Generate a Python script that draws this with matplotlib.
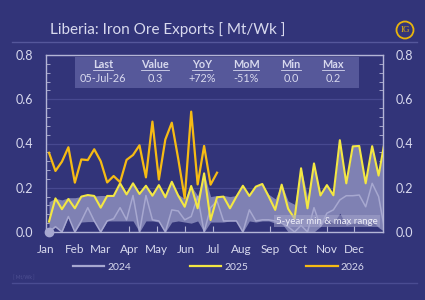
import numpy as np
import matplotlib
matplotlib.use("Agg")
import matplotlib.pyplot as plt
from matplotlib.lines import Line2D
from matplotlib.patches import Rectangle, Ellipse
from matplotlib.ticker import MultipleLocator

plt.rcParams['font.family'] = ['Lato', 'DejaVu Sans']

# ---------------- data ----------------
months = ['Jan', 'Feb', 'Mar', 'Apr', 'May', 'Jun', 'Jul', 'Aug', 'Sep', 'Oct', 'Nov', 'Dec']
month_start_day = [0, 31, 59, 90, 120, 151, 181, 212, 243, 273, 304, 334]

week = np.arange(53)  # week index

s2024 = [0.0, 0.024, 0.0, 0.07, 0.0, 0.05, 0.11, 0.05, 0.0, 0.05,
         0.06, 0.11, 0.055, 0.165, 0.0, 0.165, 0.055, 0.05, 0.0, 0.1,
         0.095, 0.055, 0.07, 0.16, 0.0, 0.11, 0.14, 0.05, 0.05, 0.05,
         0.0, 0.1, 0.05, 0.055, 0.055, 0.05, 0.04, 0.024, 0.0, 0.03,
         0.0, 0.11, 0.025, 0.085, 0.1, 0.145, 0.164, 0.164, 0.167, 0.114,
         0.22, 0.16, 0.0]

s2025 = [0.047, 0.152, 0.103, 0.149, 0.107, 0.16, 0.167, 0.163, 0.11, 0.163,
         0.163, 0.22, 0.17, 0.22, 0.172, 0.209, 0.164, 0.212, 0.157, 0.227,
         0.164, 0.114, 0.208, 0.107, 0.265, 0.054, 0.157, 0.16, 0.107, 0.16,
         0.209, 0.163, 0.205, 0.217, 0.16, 0.1, 0.214, 0.105, 0.06, 0.288,
         0.107, 0.31, 0.165, 0.212, 0.166, 0.415, 0.22, 0.387, 0.389, 0.22,
         0.388, 0.255, 0.42]

s2026 = [0.358, 0.276, 0.318, 0.383, 0.223, 0.328, 0.325, 0.374, 0.32, 0.224,
         0.253, 0.225, 0.326, 0.348, 0.392, 0.247, 0.499, 0.237, 0.418, 0.494,
         0.33, 0.152, 0.544, 0.215, 0.389, 0.214, 0.268]

band_max = [0.137, 0.152, 0.145, 0.155, 0.155, 0.16, 0.167, 0.163, 0.165, 0.165,
            0.168, 0.22, 0.18, 0.22, 0.175, 0.209, 0.175, 0.212, 0.17, 0.227,
            0.17, 0.15, 0.208, 0.165, 0.265, 0.16, 0.165, 0.165, 0.16, 0.165,
            0.209, 0.17, 0.205, 0.217, 0.17, 0.15, 0.216, 0.14, 0.125, 0.288,
            0.16, 0.31, 0.17, 0.212, 0.17, 0.415, 0.22, 0.387, 0.389, 0.22,
            0.388, 0.255, 0.42]

band_min = [0.0, 0.024, 0.0, 0.07, 0.0, 0.045, 0.047, 0.047, 0.0, 0.05,
            0.05, 0.05, 0.05, 0.05, 0.0, 0.05, 0.05, 0.045, 0.0, 0.045,
            0.05, 0.045, 0.04, 0.05, 0.0, 0.045, 0.045, 0.045, 0.05, 0.05,
            0.0, 0.05, 0.045, 0.05, 0.05, 0.04, 0.04, 0.0, 0.0, 0.0,
            0.0, 0.0, 0.025, 0.06, 0.04, 0.085, 0.03, 0.04, 0.045, 0.03,
            0.05, 0.02, 0.0]

title = 'Liberia: Iron Ore Exports [ Mt/Wk ]'
stat_headers = ['Last', 'Value', 'YoY', 'MoM', 'Min', 'Max']
stat_values = ['05-Jul-26', '0.3', '+72%', '-51%', '0.0', '0.2']
legend_labels = ['2024', '2025', '2026']

# ---------------- style ----------------
BG = '#323479'
TXT = '#D8D9EE'
SPINE = '#B4B5D6'
C24 = '#A7A8D0'
C25 = '#F3E743'
C26 = '#F6BB14'
BAND = '#7F81B3'
GOLD = '#E9B50C'

W, H = 425, 300
fig = plt.figure(figsize=(W / 100, H / 100), dpi=100, facecolor=BG)

L, R, T, B = 46, 383, 55, 232
ax = fig.add_axes([L / W, 1 - B / H, (R - L) / W, (B - T) / H])
ax.set_facecolor(BG)

x = 3.25 + 7 * week  # day-of-year position of each weekly point

ax.fill_between(x, band_min, band_max, color=BAND, lw=0, zorder=1)
ax.plot(x, s2024, color=C24, lw=1.1, zorder=3)
ax.plot(x[:1], s2024[:1], 'o', color=C24, ms=6, zorder=3, clip_on=False)
ax.plot(x, s2025, color=C25, lw=1.5, zorder=4)
ax.plot(x[:len(s2026)], s2026, color=C26, lw=1.6, zorder=5)

ax.set_xlim(0, 365)
ax.set_ylim(0, 0.8)
ax.set_xticks(month_start_day)
ax.set_xticklabels(months)
ax.set_yticks([0, 0.2, 0.4, 0.6, 0.8])
ax.set_yticklabels(['0.0', '0.2', '0.4', '0.6', '0.8'])
ax.yaxis.set_minor_locator(MultipleLocator(0.04))
ax.yaxis.grid(True, color='#474990', lw=0.9, zorder=0)
ax.set_axisbelow(True)

for s in ax.spines.values():
    s.set_color(SPINE)
    s.set_linewidth(1.0)

ax.tick_params(axis='x', direction='in', length=4, color=SPINE, labelcolor=TXT,
               labelsize=8.5, pad=8.5, top=False)
ax.tick_params(axis='y', which='major', length=0, labelcolor=TXT, labelsize=9,
               pad=9, left=True, right=True, labelleft=True, labelright=True)
ax.tick_params(axis='y', which='minor', direction='in', length=3, color=SPINE,
               left=True, right=True)

ax.text(0.985, 0.062, '5-year min & max range', transform=ax.transAxes,
        ha='right', va='center', fontsize=7, color='#EEEEF8', zorder=6,
        bbox=dict(boxstyle='square,pad=0.2', fc='#A4A5CC', ec='none', alpha=0.55))

# title and decorations
fig.text(50 / W, 1 - 30 / H, title, ha='left', va='center', fontsize=11, color=TXT)
fig.add_artist(Line2D([12 / W, 417 / W], [1 - 42 / H] * 2, color='#55579B', lw=1))
fig.add_artist(Line2D([12 / W, 417 / W], [1 - 283 / H] * 2, color='#4A4C92', lw=1))
fig.text(13 / W, 1 - 278 / H, '[ Mt/Wk ]', fontsize=3.5, color='#505294', va='center')
fig.add_artist(Ellipse((405 / W, 1 - 30 / H), 17 / W, 17 / H, transform=fig.transFigure,
                       fc='none', ec=GOLD, lw=1.3))
fig.text(405 / W, 1 - 30.5 / H, 'IG', ha='center', va='center', fontsize=6.5,
         color=GOLD, family=['Liberation Serif', 'DejaVu Serif'])

# stats box
fig.add_artist(Rectangle((75 / W, 1 - 88 / H), (359 - 75) / W, 31 / H,
                         transform=fig.transFigure, fc='#56589A', ec='none'))
col_x = [103, 155, 202, 246, 291, 333]
hdr_texts = []
for cx, h, v in zip(col_x, stat_headers, stat_values):
    t = fig.text(cx / W, 1 - 65 / H, h, ha='center', va='center', fontsize=7.8,
                 fontweight='bold', color=TXT)
    hdr_texts.append(t)
    fig.text(cx / W, 1 - 78.5 / H, v, ha='center', va='center', fontsize=7.8,
             color=TXT)

# legend
handles = [Line2D([], [], color=c, lw=1.6) for c in (C24, C25, C26)]
fig.legend(handles, legend_labels, loc='center', bbox_to_anchor=(0.515, 1 - 267 / H),
           ncol=3, frameon=False, fontsize=7.5, labelcolor=TXT, handlelength=3.0,
           handletextpad=0.3, columnspacing=5.6)

# underline the headers
fig.canvas.draw()
rend = fig.canvas.get_renderer()
for t in hdr_texts:
    bb = t.get_window_extent(renderer=rend)
    yy = (bb.y0 + 0.5) / H
    fig.add_artist(Line2D([bb.x0 / W, bb.x1 / W], [yy, yy], color=TXT, lw=0.6))

fig.savefig('out.png', dpi=100, facecolor=BG)
